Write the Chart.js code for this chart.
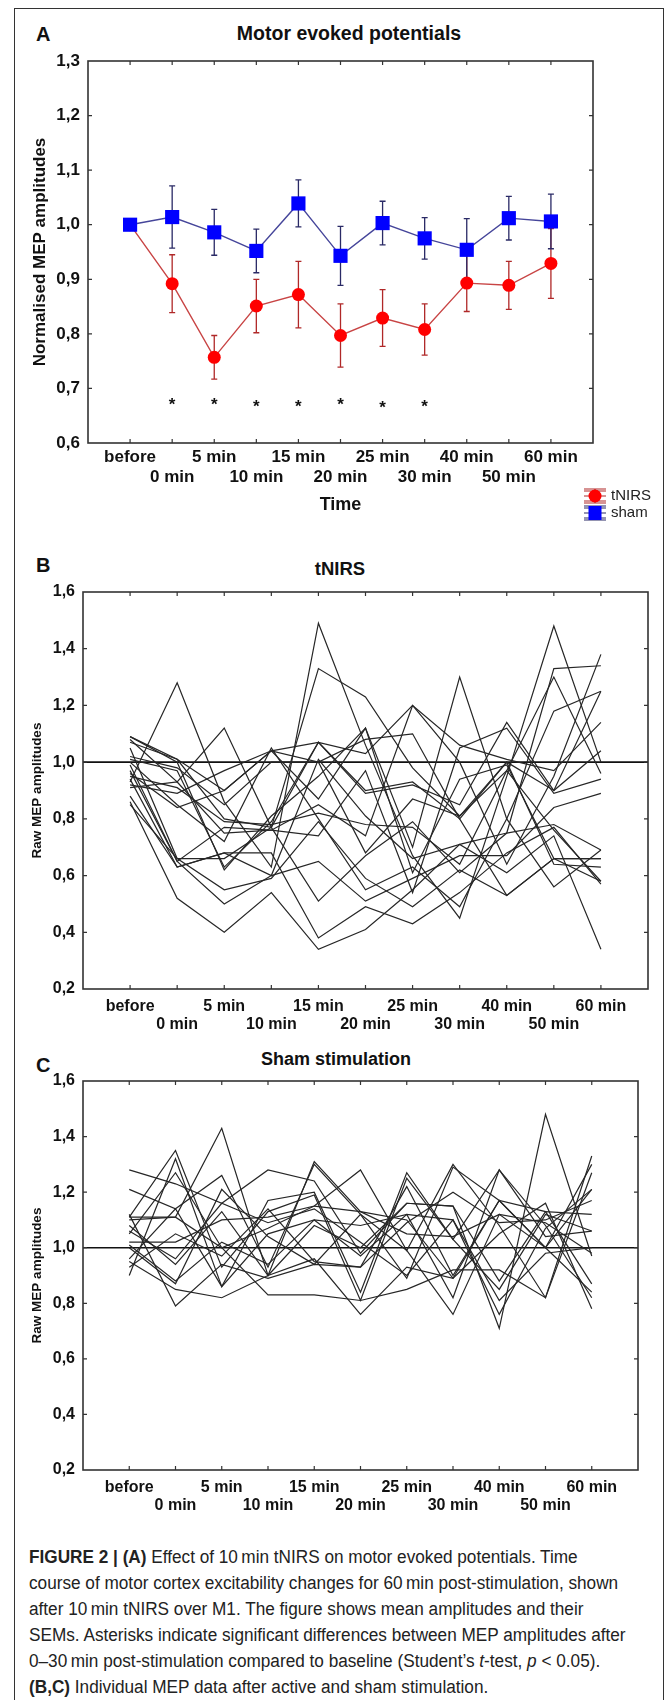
<!DOCTYPE html>
<html>
<head>
<meta charset="utf-8">
<script src="https://cdn.jsdelivr.net/npm/chart.js@4.4.1/dist/chart.umd.min.js"></script>
<style>
  html, body { margin: 0; padding: 0; background: #fff; }
  body { width: 669px; height: 1700px; position: relative; overflow: hidden;
         font-family: "Liberation Sans", Arial, sans-serif; color: #111; }
  .frame { position: absolute; left: 14px; top: 8px; width: 648px; height: 1760px; border: 1px solid #333; }
  canvas { position: absolute; left: 0; }
  .letter { position: absolute; left: 36px; font-weight: bold; font-size: 20px; line-height: 20px; }
  .title { position: absolute; font-weight: bold; white-space: nowrap; transform: translateX(-50%); line-height: 1; }
  .caption { position: absolute; left: 29px; top: 1544px; font-size: 18px; line-height: 26px;
             white-space: nowrap; color: #222; transform: scaleX(0.955); transform-origin: 0 0; }
</style>
</head>
<body>
<div class="frame"></div>

<div class="letter" style="top:24px">A</div>
<div class="title" style="left:349px; top:24px; font-size:19.5px">Motor evoked potentials</div>
<canvas id="chartA" width="669" height="530" style="top:0"></canvas>

<div class="letter" style="top:555px">B</div>
<div class="title" style="left:340px; top:560px; font-size:18.5px">tNIRS</div>
<canvas id="chartB" width="669" height="500" style="top:540px"></canvas>

<div class="letter" style="top:1055px">C</div>
<div class="title" style="left:336px; top:1050px; font-size:18px">Sham stimulation</div>
<canvas id="chartC" width="669" height="495" style="top:1035px"></canvas>

<div class="caption">
<b>FIGURE 2 | (A)</b> Effect of 10&#8201;min tNIRS on motor evoked potentials. Time<br>
course of motor cortex excitability changes for 60&#8201;min post-stimulation, shown<br>
after 10&#8201;min tNIRS over M1. The figure shows mean amplitudes and their<br>
SEMs. Asterisks indicate significant differences between MEP amplitudes after<br>
0&ndash;30&#8201;min post-stimulation compared to baseline (Student&rsquo;s <i>t</i>-test, <i>p</i> &lt; 0.05).<br>
<b>(B,C)</b> Individual MEP data after active and sham stimulation.
</div>

<script>
// Zeitpunkte (x-Achse)
const timeLabels = ['before', '0 min', '5 min', '10 min', '15 min', '20 min',
                    '25 min', '30 min', '40 min', '50 min', '60 min'];

// Panel A: Mittelwerte und SEM
const tnirsMean = [1.000, 0.892, 0.757, 0.851, 0.872, 0.797, 0.829, 0.808, 0.893, 0.889, 0.929];
const tnirsSem  = [0.000, 0.053, 0.040, 0.049, 0.061, 0.058, 0.052, 0.047, 0.052, 0.044, 0.064];
const shamMean  = [1.000, 1.014, 0.986, 0.952, 1.039, 0.943, 1.003, 0.975, 0.954, 1.012, 1.006];
const shamSem   = [0.000, 0.057, 0.042, 0.040, 0.043, 0.054, 0.040, 0.038, 0.057, 0.040, 0.050];

// Sternchen (signifikant): Index des Zeitpunkts und Hoehe
const starIndex = [1, 2, 3, 4, 5, 6, 7];
const starLevel = [0.678, 0.678, 0.675, 0.675, 0.678, 0.673, 0.675];

// Achsenticks
const ticksA  = [0.6, 0.7, 0.8, 0.9, 1.0, 1.1, 1.2, 1.3];
const ticksBC = [0.2, 0.4, 0.6, 0.8, 1.0, 1.2, 1.4, 1.6];

// Panel B: Einzelverlaeufe tNIRS
const tnirsRaw = [
  [1.09, 1.01, 0.80, 0.77, 1.33, 1.23, 0.98, 0.81, 1.00, 0.90, 1.25],
  [1.08, 0.93, 1.12, 0.77, 1.07, 0.90, 0.93, 0.80, 0.53, 0.66, 0.66],
  [0.93, 1.28, 0.86, 0.63, 1.49, 1.06, 0.67, 0.45, 0.95, 1.48, 1.00],
  [1.07, 1.01, 0.90, 1.04, 0.87, 1.12, 0.70, 1.30, 0.80, 0.56, 0.69],
  [1.01, 0.97, 0.63, 0.79, 1.07, 0.89, 0.92, 0.85, 1.14, 0.90, 1.04],
  [0.96, 0.84, 0.90, 1.04, 1.00, 1.08, 1.10, 0.80, 1.00, 0.64, 0.63],
  [0.91, 0.93, 0.75, 0.76, 0.85, 0.74, 1.20, 1.06, 1.01, 0.97, 1.14],
  [0.86, 0.52, 0.40, 0.54, 0.34, 0.41, 0.55, 0.71, 0.75, 0.78, 0.69],
  [0.85, 0.66, 0.55, 0.59, 0.79, 0.59, 0.49, 0.62, 0.53, 0.66, 0.66],
  [0.99, 0.65, 0.50, 0.60, 0.65, 0.51, 0.59, 0.67, 0.67, 0.84, 0.89],
  [1.05, 0.66, 0.66, 0.77, 0.51, 0.67, 0.79, 0.61, 0.75, 1.33, 1.34],
  [0.94, 0.63, 0.68, 0.68, 0.38, 0.49, 0.43, 0.54, 0.68, 0.77, 0.57],
  [1.00, 0.85, 0.72, 1.05, 0.80, 0.55, 0.63, 0.49, 0.80, 1.18, 1.25],
  [0.92, 0.89, 0.97, 1.04, 1.07, 1.03, 1.20, 1.00, 0.64, 0.95, 1.38],
  [1.09, 1.00, 0.62, 0.81, 0.95, 1.12, 0.61, 0.94, 0.99, 0.66, 0.58],
  [0.97, 0.65, 0.77, 0.76, 0.74, 0.97, 0.54, 1.05, 1.12, 0.89, 0.94],
  [0.88, 0.63, 0.68, 0.60, 1.01, 0.81, 0.66, 0.71, 0.61, 0.74, 0.34],
  [1.02, 0.98, 0.85, 1.00, 1.00, 0.68, 0.87, 0.81, 0.97, 0.76, 0.58],
  [0.95, 0.91, 0.79, 0.78, 0.82, 0.78, 0.77, 0.64, 0.97, 1.30, 0.96]
];

// Panel C: Einzelverlaeufe Sham
const shamRaw = [
  [1.28, 1.23, 1.16, 1.28, 1.24, 0.98, 1.16, 1.15, 0.71, 1.48, 0.97],
  [1.21, 1.14, 1.26, 0.93, 1.30, 1.12, 0.89, 1.29, 1.17, 1.00, 0.84],
  [1.11, 1.35, 0.93, 1.13, 1.19, 0.81, 1.25, 1.03, 1.28, 1.08, 0.82],
  [1.10, 1.11, 1.43, 0.90, 1.31, 1.13, 1.10, 0.89, 1.17, 1.00, 1.21],
  [1.02, 1.02, 1.10, 1.11, 1.15, 1.28, 0.99, 1.30, 1.08, 0.82, 1.33],
  [0.90, 1.32, 0.86, 1.17, 1.20, 0.84, 1.27, 1.03, 0.85, 1.12, 1.06],
  [1.00, 0.87, 1.21, 1.04, 0.94, 1.12, 0.99, 0.76, 1.12, 1.00, 1.30],
  [1.05, 1.27, 1.00, 0.83, 0.83, 0.81, 0.85, 0.92, 0.92, 0.82, 1.27],
  [0.95, 0.85, 0.82, 0.90, 0.96, 0.76, 0.93, 0.89, 1.05, 1.16, 0.78],
  [1.08, 0.94, 1.13, 0.90, 1.08, 1.00, 1.16, 1.15, 0.88, 1.13, 1.12],
  [1.12, 0.79, 0.94, 0.89, 0.94, 0.93, 1.09, 1.20, 1.09, 1.10, 1.17],
  [0.96, 1.14, 0.86, 1.05, 1.10, 0.97, 1.12, 1.10, 0.81, 0.98, 1.00],
  [1.11, 1.11, 1.00, 1.07, 1.15, 1.13, 1.05, 1.04, 1.12, 1.09, 0.98],
  [1.01, 0.88, 1.02, 0.94, 1.10, 1.08, 1.12, 0.82, 1.28, 1.04, 1.06],
  [0.93, 1.05, 0.97, 1.14, 0.95, 0.93, 1.22, 0.90, 1.17, 1.13, 0.87],
  [1.06, 0.96, 1.16, 1.09, 1.14, 1.02, 0.90, 1.10, 0.76, 1.07, 1.21]
];

const FONT = '"Liberation Sans", Arial, sans-serif';
Chart.defaults.font.family = FONT;
Chart.defaults.color = '#111';

const toPoints = arr => arr.map((v, i) => ({ x: i, y: v }));
const commaFmt = v => v.toFixed(1).replace('.', ',');

// Rahmen, Ticks nach innen, Fehlerbalken, Referenzlinie, Sternchen, Legende
function decor(cfg) {
  return {
    id: 'decor',
    beforeDatasetsDraw(chart) {
      const { ctx, chartArea: a, scales: { x, y } } = chart;
      ctx.save();
      if (cfg.refLine !== undefined) {
        const py = y.getPixelForValue(cfg.refLine);
        ctx.strokeStyle = '#111';
        ctx.lineWidth = 1.6;
        ctx.beginPath();
        ctx.moveTo(a.left, py);
        ctx.lineTo(a.right, py);
        ctx.stroke();
      }
      (cfg.errorBars || []).forEach(eb => {
        ctx.strokeStyle = eb.color;
        ctx.lineWidth = 1.3;
        eb.mean.forEach((m, i) => {
          if (!eb.sem[i]) return;
          const px = x.getPixelForValue(i);
          const hi = y.getPixelForValue(m + eb.sem[i]);
          const lo = y.getPixelForValue(m - eb.sem[i]);
          ctx.beginPath();
          ctx.moveTo(px, hi); ctx.lineTo(px, lo);
          ctx.moveTo(px - 3, hi); ctx.lineTo(px + 3, hi);
          ctx.moveTo(px - 3, lo); ctx.lineTo(px + 3, lo);
          ctx.stroke();
        });
      });
      ctx.restore();
    },
    afterDatasetsDraw(chart) {
      const { ctx, chartArea: a, scales: { x, y } } = chart;
      ctx.save();
      ctx.strokeStyle = '#333';
      ctx.lineWidth = 1.6;
      ctx.strokeRect(a.left, a.top, a.right - a.left, a.bottom - a.top);
      ctx.lineWidth = 1.2;
      ctx.beginPath();
      timeLabels.forEach((_, i) => {
        const px = x.getPixelForValue(i);
        ctx.moveTo(px, a.top); ctx.lineTo(px, a.top + 4);
        ctx.moveTo(px, a.bottom); ctx.lineTo(px, a.bottom - 4);
      });
      cfg.yTicks.slice(1, -1).forEach(v => {
        const py = y.getPixelForValue(v);
        ctx.moveTo(a.left, py); ctx.lineTo(a.left + 4, py);
        ctx.moveTo(a.right, py); ctx.lineTo(a.right - 4, py);
      });
      ctx.stroke();

      if (cfg.stars) {
        ctx.fillStyle = '#111';
        ctx.font = 'bold 17px ' + FONT;
        ctx.textAlign = 'center';
        ctx.textBaseline = 'alphabetic';
        cfg.stars.index.forEach((idx, k) => {
          ctx.fillText('*', x.getPixelForValue(idx), y.getPixelForValue(cfg.stars.level[k]) + 10);
        });
      }

      if (cfg.legend) {
        cfg.legend.forEach(item => {
          const cx = item.x, cy = item.y;
          ctx.strokeStyle = item.whisker;
          ctx.lineWidth = 1.2;
          ctx.beginPath();
          [-7, -5, 0, 5, 7].forEach(d => { ctx.moveTo(cx - 11, cy + d); ctx.lineTo(cx + 11, cy + d); });
          ctx.moveTo(cx, cy - 7); ctx.lineTo(cx, cy + 7);
          ctx.stroke();
          ctx.fillStyle = item.color;
          if (item.style === 'circle') {
            ctx.beginPath();
            ctx.arc(cx, cy, 6.5, 0, Math.PI * 2);
            ctx.fill();
          } else {
            ctx.fillRect(cx - 6.5, cy - 7, 13, 14);
          }
          ctx.fillStyle = '#222';
          ctx.font = '15px ' + FONT;
          ctx.textAlign = 'left';
          ctx.textBaseline = 'middle';
          ctx.fillText(item.label, cx + 16, cy);
        });
      }
      ctx.restore();
    }
  };
}

function xAxis(fontSize, lineHeight, pad, height, title) {
  return {
    type: 'linear', min: -1, max: 11,
    grid: { display: false, drawTicks: false },
    border: { display: false },
    afterBuildTicks: s => { s.ticks = timeLabels.map((_, i) => ({ value: i })); },
    afterFit: s => { s.height = height; },
    ticks: {
      autoSkip: false, maxRotation: 0, padding: pad,
      font: { size: fontSize, weight: 'bold', lineHeight: lineHeight },
      callback: v => {
        const i = Math.round(v);
        const t = timeLabels[i];
        if (t === undefined) return '';
        return i % 2 === 0 ? t : ['', t];
      }
    },
    title: title || { display: false }
  };
}

function yAxis(tickVals, width, fontSize, title) {
  return {
    type: 'linear', min: tickVals[0], max: tickVals[tickVals.length - 1],
    grid: { display: false, drawTicks: false },
    border: { display: false },
    afterBuildTicks: s => { s.ticks = tickVals.map(v => ({ value: v })); },
    afterFit: s => { s.width = width; },
    ticks: { padding: 8, font: { size: fontSize, weight: 'bold' }, callback: commaFmt },
    title: title
  };
}

const baseOpts = {
  responsive: false,
  animation: false,
  events: [],
  plugins: { legend: { display: false }, tooltip: { enabled: false } }
};

// Panel A
new Chart(document.getElementById('chartA'), {
  type: 'line',
  data: {
    datasets: [{
      label: 'tNIRS',
      data: toPoints(tnirsMean),
      order: 1,
      borderColor: '#c84444',
      borderWidth: 1.4,
      pointStyle: 'circle',
      pointRadius: 6.5,
      pointBackgroundColor: '#ff0000',
      pointBorderWidth: 0
    }, {
      label: 'sham',
      data: toPoints(shamMean),
      order: 0,
      borderColor: '#45459a',
      borderWidth: 1.4,
      pointStyle: 'rect',
      pointRadius: 10,
      pointBackgroundColor: '#0000ff',
      pointBorderWidth: 0
    }]
  },
  options: {
    ...baseOpts,
    layout: { padding: { left: 0, top: 61, right: 76, bottom: 0 } },
    scales: {
      x: xAxis(17, 1.2, 4, 87, {
        display: true, text: 'Time', color: '#111',
        font: { size: 18, weight: 'bold' }, padding: { top: 0, bottom: 14 }
      }),
      y: yAxis(ticksA, 88, 17, {
        display: true, text: 'Normalised MEP amplitudes', color: '#111',
        font: { size: 17, weight: 'bold' }, padding: { top: 30, bottom: 0 }
      })
    }
  },
  plugins: [decor({
    yTicks: ticksA,
    errorBars: [
      { mean: tnirsMean, sem: tnirsSem, color: '#b02828' },
      { mean: shamMean, sem: shamSem, color: '#2a2a66' }
    ],
    stars: { index: starIndex, level: starLevel },
    legend: [
      { label: 'tNIRS', x: 595, y: 496, color: '#ff0000', whisker: '#b02828', style: 'circle' },
      { label: 'sham', x: 595, y: 513, color: '#0000ff', whisker: '#2a2a66', style: 'rect' }
    ]
  })]
});

function rawChart(id, rows, padTop, padRight, xHeight) {
  new Chart(document.getElementById(id), {
    type: 'line',
    data: {
      datasets: rows.map((r, k) => ({
        label: 'S' + (k + 1),
        data: toPoints(r),
        borderColor: '#262626',
        borderWidth: 1.2,
        pointRadius: 0
      }))
    },
    options: {
      ...baseOpts,
      layout: { padding: { left: 0, top: padTop, right: padRight, bottom: 0 } },
      scales: {
        x: xAxis(16, 1.15, 8, xHeight),
        y: yAxis(ticksBC, 83, 16, {
          display: true, text: 'Raw MEP amplitudes', color: '#111',
          font: { size: 13.5, weight: 'bold' }, padding: { top: 29, bottom: 0 }
        })
      }
    },
    plugins: [decor({ yTicks: ticksBC, refLine: 1.0 })]
  });
}

rawChart('chartB', tnirsRaw, 52, 21, 51);
rawChart('chartC', shamRaw, 46, 31, 60);
</script>
</body>
</html>
